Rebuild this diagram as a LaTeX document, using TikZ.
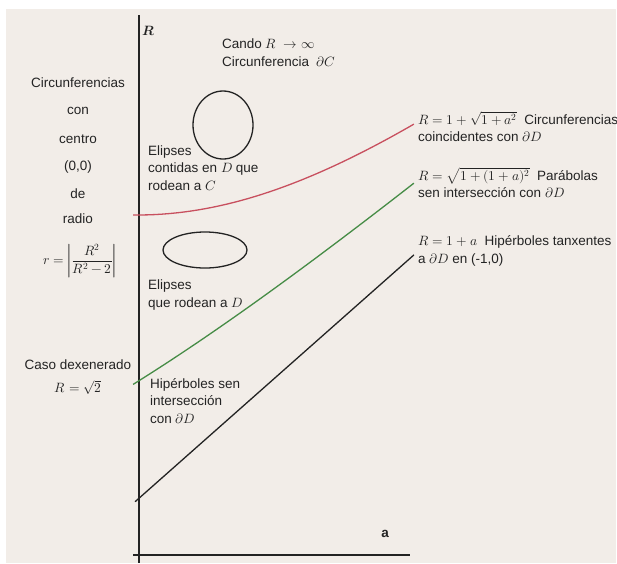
\documentclass[tikz,border=0pt]{standalone}
\usepackage{amsmath}
\usepackage{fontspec}
\usepackage{unicode-math}
\setmainfont{Liberation Sans}
\setmathfont{Latin Modern Math}
\usetikzlibrary{positioning}
\usetikzlibrary{calc}

\definecolor{fondo}{RGB}{242,237,232}
\definecolor{vermello}{RGB}{200,80,95}
\definecolor{verde}{RGB}{70,140,70}
\definecolor{eixo}{RGB}{35,35,35}

\begin{document}
\begin{tikzpicture}[x=1pt, y=-1pt, every node/.style={font=\fontsize{13.5}{17.5}\selectfont, inner sep=0pt, text=eixo}, texto/.style={anchor=west, align=left}, col/.style={anchor=center}, curva/.style={line width=1.3pt}]
        % Fondo e marxes
        \useasboundingbox (0,0) rectangle (617,563);
        \fill[fondo] (6,9) rectangle (616,563);

        % Eixos
        \coordinate (O) at (139,555);
        \coordinate (Rtop) at (139,15);
        \coordinate (Rbot) at (139,563);
        \coordinate (Aini) at (133,555);
        \coordinate (Afin) at (410,555);
        \draw[eixo, line width=1.6pt] (Rtop) -- (Rbot);
        \draw[eixo, line width=1.6pt] (Aini) -- (Afin);
        \node (labR) at (149,31) {$\symbfit{R}$};
        \node (laba) at (385,534) {\bfseries a};

        % Curvas: x = 137 + 322a, y = 785 - 285R
        \draw[curva, vermello] plot[domain=-0.012:0.86, samples=40] ({137+322*\x},{785-285*(1+sqrt(1+\x*\x))});
        \draw[curva, verde] plot[domain=-0.012:0.86, samples=40] ({137+322*\x},{785-285*sqrt(1+(1+\x)*(1+\x))});
        \draw[curva, eixo] plot[domain=-0.006:0.86, samples=2] ({137+322*\x},{785-285*(1+\x)});

        % Elipses
        \draw[eixo, line width=1.3pt] (223,125) ellipse (30 and 34);
        \draw[eixo, line width=1.3pt] (205,250) ellipse (42 and 18);

        % Columna da esquerda
        \node[col] (circ) at (78,83) {Circunferencias};
        \node[col] (con) at (78,111) {con};
        \node[col] (centro) at (78,139) {centro};
        \node[col] (orixe) at (78,167) {(0,0)};
        \node[col] (de) at (78,194) {de};
        \node[col] (radio) at (78,219) {radio};
        \node[col] (formula) at (80,261) {$r=\left|\dfrac{R^2}{R^2-2}\right|$};
        \node[col] (caso) at (78,365) {Caso dexenerado};
        \node[col, below=10pt of caso] (raiz) {$R=\sqrt{2}$};

        % Textos no interior
        \node[texto] (cando) at (222,53) {Cando $R\ \to\infty$\\Circunferencia\ \ $\partial C$};
        \node[texto] (elip1) at (148,168) {Elipses\\contidas en $D$ que\\rodean a $C$};
        \node[texto] (elip2) at (148,295) {Elipses\\que rodean a $D$};
        \node[texto] (hiper) at (150,401) {Hipérboles sen\\intersección\\con $\partial D$};

        % Etiquetas das curvas
        \node[texto] (labV) at (418,127) {$R=1+\sqrt{1+a^2}$\ \ Circunferencias\\coincidentes con $\partial D$};
        \node[texto] (labG) at (418,183) {$R=\sqrt{1+(1+a)^2}$\ \ Parábolas\\sen intersección con $\partial D$};
        \node[texto] (labN) at (418,251) {$R=1+a$\ \ Hipérboles tanxentes\\a $\partial D$ en (-1,0)};
      \end{tikzpicture}
\end{document}
